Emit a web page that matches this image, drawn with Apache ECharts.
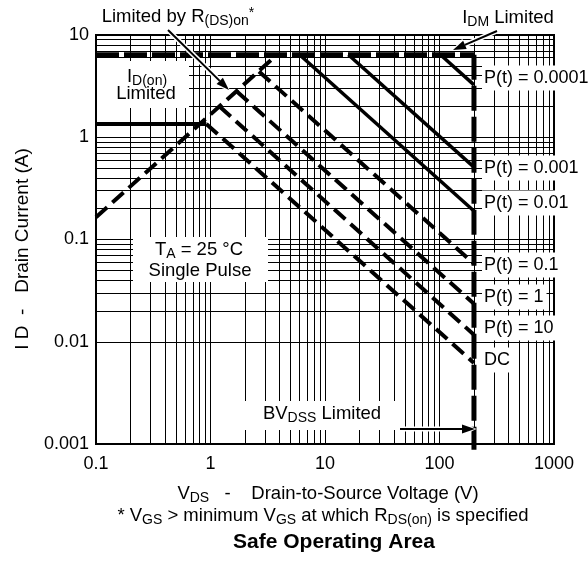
<!DOCTYPE html>
<html><head><meta charset="utf-8">
<script src="https://cdn.jsdelivr.net/npm/echarts@6/dist/echarts.min.js"></script>
<style>html,body{margin:0;padding:0;background:#fff}#c{width:588px;height:563px}</style>
</head><body><div id="c"></div>
<script>
// ---- data ----
const xTickLabels = ['0.1', '1', '10', '100', '1000'];
const yTickLabels = ['0.001', '0.01', '0.1', '1', '10'];
const minorSteps = [2, 3, 4, 5, 6, 7, 8, 9];

const idmLimit   = [[0.1, 6.4], [200, 6.4]];
const rdsLimit   = [[0.1, 0.165], [3.8, 6.4]];
const idonLimit  = [[0.1, 1.35], [0.92, 1.35]];
const bvdssLimit = [[200, 6.4], [200, 0.00088]];
const p00001 = [[102, 6.4], [200, 3.25]];
const p0001  = [[16, 6.4], [200, 0.51]];
const p001   = [[6.0, 6.4], [200, 0.19]];
const p01    = [[2.65, 4.4], [200, 0.058]];
const p1     = [[1.7, 2.8], [200, 0.0235]];
const p10    = [[1.2, 2.0], [200, 0.0117]];
const pDC    = [[0.92, 1.35], [200, 0.0062]];

const FONT = "'Liberation Sans', Arial, Helvetica, sans-serif";

const xMin = Number(xTickLabels[0]), xMax = Number(xTickLabels[xTickLabels.length - 1]);
const yMin = Number(yTickLabels[0]), yMax = Number(yTickLabels[yTickLabels.length - 1]);

const vLines = [], hLines = [];
xTickLabels.slice(0, -1).forEach(d => minorSteps.forEach(m => vLines.push({ xAxis: Number(d) * m })));
yTickLabels.slice(0, -1).forEach(d => minorSteps.forEach(m => hLines.push({ yAxis: Number(d) * m })));

function pickLabel(list, v) {
  const t = list.find(s => Math.abs(Number(s) - v) / Number(s) < 1e-6);
  return t !== undefined ? t : '';
}

function seg(name, data, width, dash) {
  return {
    type: 'line', name, data, symbol: 'none', silent: true, animation: false, clip: false, z: 3,
    lineStyle: { color: '#000', width, type: dash || 'solid', cap: 'butt', join: 'miter' }
  };
}
const DASH = [15, 7];

const chart = echarts.init(document.getElementById('c'));

const FS = 18.5;
const sub = { fontSize: 14, lineHeight: 12, verticalAlign: 'bottom', fontFamily: FONT, fill: '#000' };
const sup = { fontSize: 14, lineHeight: 12, verticalAlign: 'top', fontFamily: FONT, fill: '#000' };
const nrm = { fontSize: FS, lineHeight: 22, fontFamily: FONT, fill: '#000' };

function txt(x, y, text) {
  return {
    type: 'text', x, y, z: 20, silent: true,
    style: { text, rich: { n: nrm, s: sub, p: sup }, fontSize: FS, fontFamily: FONT, fill: '#000', align: 'center', verticalAlign: 'middle' }
  };
}
function box(x, y, w, h) {
  return { type: 'rect', z: 15, silent: true, shape: { x, y, width: w, height: h }, style: { fill: '#fff' } };
}
function arrow(x1, y1, x2, y2) {
  const a = Math.atan2(y2 - y1, x2 - x1), L = 13, W = 4.5;
  const bx = x2 - L * Math.cos(a), by = y2 - L * Math.sin(a);
  const px = -Math.sin(a) * W, py = Math.cos(a) * W;
  return [
    { type: 'line', z: 21, silent: true, shape: { x1, y1, x2: bx, y2: by }, style: { stroke: '#fff', lineWidth: 5 } },
    { type: 'polygon', z: 21, silent: true, shape: { points: [[x2 + 1.5 * Math.cos(a), y2 + 1.5 * Math.sin(a)], [bx + px * 1.5, by + py * 1.5], [bx - px * 1.5, by - py * 1.5]] }, style: { fill: '#fff' } },
    { type: 'line', z: 22, silent: true, shape: { x1, y1, x2: bx, y2: by }, style: { stroke: '#000', lineWidth: 2 } },
    { type: 'polygon', z: 22, silent: true, shape: { points: [[x2, y2], [bx + px, by + py], [bx - px, by - py]] }, style: { fill: '#000' } }
  ];
}

const rightLabel = (y, text) => ({
  type: 'text', x: 482, y, z: 20, silent: true,
  style: { text, fontSize: 18, fontFamily: FONT, fill: '#000', align: 'left', verticalAlign: 'middle', backgroundColor: '#fff', padding: [4, 3, 3, 2] }
});

const option = {
  animation: false,
  backgroundColor: '#fff',
  grid: { left: 96, right: 34, top: 35, bottom: 119, show: true, borderColor: '#000', borderWidth: 2, z: 5 },
  xAxis: {
    type: 'log', logBase: 10, min: xMin, max: xMax,
    axisLine: { show: false }, axisTick: { show: false },
    splitLine: { show: true, lineStyle: { color: '#000', width: 1 } },
    axisLabel: { color: '#000', fontSize: 18, fontFamily: FONT, margin: 11, formatter: v => pickLabel(xTickLabels, v) }
  },
  yAxis: {
    type: 'log', logBase: 10, min: yMin, max: yMax,
    axisLine: { show: false }, axisTick: { show: false },
    splitLine: { show: true, lineStyle: { color: '#000', width: 1 } },
    axisLabel: { color: '#000', fontSize: 18, fontFamily: FONT, margin: 7, formatter: v => pickLabel(yTickLabels, v) }
  },
  series: [
    {
      type: 'line', name: 'grid', data: [[xMin, yMin]], symbol: 'none', silent: true, z: 1,
      lineStyle: { width: 0 },
      markLine: {
        silent: true, symbol: ['none', 'none'], animation: false, label: { show: false },
        lineStyle: { color: '#000', width: 1, type: 'solid' },
        emphasis: { disabled: true },
        data: vLines.concat(hLines)
      }
    },
    seg('IDM Limited', idmLimit, 5, [23, 5]),
    seg('BVDSS Limited', bvdssLimit, 5, [25, 6]),
    seg('RDS(on) Limited', rdsLimit, 4, DASH),
    seg('ID(on) Limited', idonLimit, 4),
    seg('P(t) = 0.0001', p00001, 3.5),
    seg('P(t) = 0.001', p0001, 3.5),
    seg('P(t) = 0.01', p001, 3.5),
    seg('P(t) = 0.1', p01, 4, DASH),
    seg('P(t) = 1', p1, 4, DASH),
    seg('P(t) = 10', p10, 4, DASH),
    seg('DC', pDC, 4, DASH)
  ],
  graphic: [
    box(97, 61, 92, 47),
    txt(147, 77, '{n|I}{s|D(on)}'),
    txt(146, 94, 'Limited'),
    box(133, 237, 135, 45),
    txt(199, 250, '{n|T}{s|A}{n| = 25 °C}'),
    txt(200, 271, 'Single Pulse'),
    box(243, 401, 157, 29),
    txt(322, 414, '{n|BV}{s|DSS}{n| Limited}'),
    ...arrow(400, 429, 475, 429),
    txt(178, 17, '{n|Limited by R}{s|(DS)on}{p|*}'),
    ...arrow(168, 30, 229, 90),
    txt(508, 18, '{n|I}{s|DM}{n| Limited}'),
    ...arrow(497, 31, 453, 50),
    rightLabel(78, 'P(t) = 0.0001'),
    rightLabel(168, 'P(t) = 0.001'),
    rightLabel(203, 'P(t) = 0.01'),
    rightLabel(265, 'P(t) = 0.1'),
    rightLabel(297, 'P(t) = 1'),
    rightLabel(328, 'P(t) = 10'),
    rightLabel(360, 'DC'),
    { type: 'text', x: 23, y: 249, rotation: Math.PI / 2, z: 20, silent: true,
      style: { text: 'I D  -   Drain Current (A)', fontSize: 19, fontFamily: FONT, fill: '#000', align: 'center', verticalAlign: 'middle' } },
    txt(328, 494, '{n|V}{s|DS}{n|   -    Drain-to-Source Voltage (V)}'),
    txt(323, 516, '{n|* V}{s|GS}{n| > minimum V}{s|GS}{n| at which R}{s|DS(on)}{n| is specified}'),
    { type: 'text', x: 334, y: 542, z: 20, silent: true,
      style: { text: 'Safe Operating Area', fontSize: 21, fontWeight: 'bold', fontFamily: FONT, fill: '#000', align: 'center', verticalAlign: 'middle' } }
  ]
};
chart.setOption(option);
</script>
</body></html>
